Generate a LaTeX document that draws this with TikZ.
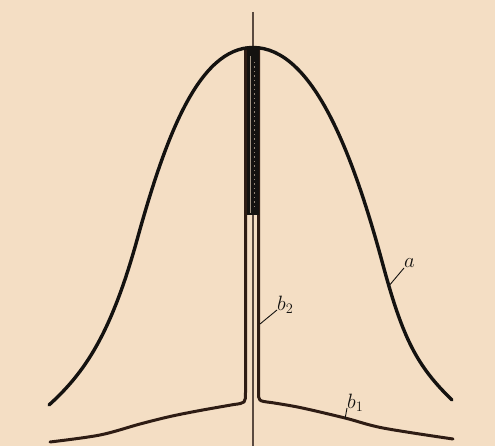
\documentclass[tikz,border=0pt]{standalone}
\definecolor{paper}{HTML}{F4DEC4}
\definecolor{ink}{HTML}{141210}
\definecolor{brownink}{HTML}{2E1C14}
\definecolor{hair}{HTML}{5A4A40}
\begin{document}
\begin{tikzpicture}[x=1pt,y=-1pt,
  curvea/.style={line width=3.4pt, ink, line cap=round, line join=round},
  curveb/.style={line width=3pt, brownink, line cap=round, line join=round},
  leader/.style={line width=0.9pt, ink},
  lbl/.style={font=\fontsize{21}{23}\selectfont, inner sep=0pt, text=ink}]
\fill[paper] (0,0) rectangle (495,446);
\useasboundingbox (0,0) rectangle (495,446);

% centre hairline
\coordinate (ctop) at (253,12);
\coordinate (cbot) at (253,446);
\draw[hair, line width=1.2pt] (ctop) -- (cbot);

% curve b: left branch, spike walls, right branch
\draw[curveb] plot[smooth, tension=0.55] coordinates {(50,442) (100,435) (140,424) (170,416.5) (200,410.5) (234,404.5)}
  .. controls (245.5,403) .. (245.5,392) -- (245.5,48);
\draw[curveb] (258.5,48) -- (258.5,392) .. controls (258.5,401) .. (271,402.5)
  -- plot[smooth, tension=0.55] coordinates {(271,402.5) (300,407.5) (345,418) (383,428) (453,439)};

% dark upper part of the spike
\fill[ink] (246.5,47) rectangle (258.8,215);
\draw[paper!65!ink, line width=0.7pt] (250.5,56) -- (250.5,213);
\draw[paper!55!ink, line width=0.8pt, dash pattern=on 1.5pt off 3pt] (254.8,62) -- (254.8,210);

% curve a
\coordinate (aleft) at (49,405);
\coordinate (ainfl) at (137,240);
\coordinate (apeak) at (253,47.5);
\coordinate (ainfr) at (383,265);
\coordinate (aright) at (452,400);
\draw[curvea] (aleft) .. controls (85,372.5) and (111,333.6) .. (ainfl)
  .. controls (165,139) and (198,47.5) .. (apeak)
  .. controls (313,47.5) and (353,154) .. (ainfr)
  .. controls (403,339) and (417,366) .. (aright);

% labels
\node[lbl, anchor=base west] (la) at (404,268) {$a$};
\coordinate (qa) at (388,287);
\draw[leader] (qa) -- (la.base west);

\node[lbl, anchor=base west] (lb2) at (277,310) {$b_2$};
\coordinate (qb2) at (260,324);
\draw[leader] (qb2) -- (lb2.base west);

\node[lbl, anchor=base west] (lb1) at (347,408) {$b_1$};
\coordinate (qb1) at (345,419);
\draw[leader] (qb1) -- (lb1.base west);
\end{tikzpicture}
\end{document}
